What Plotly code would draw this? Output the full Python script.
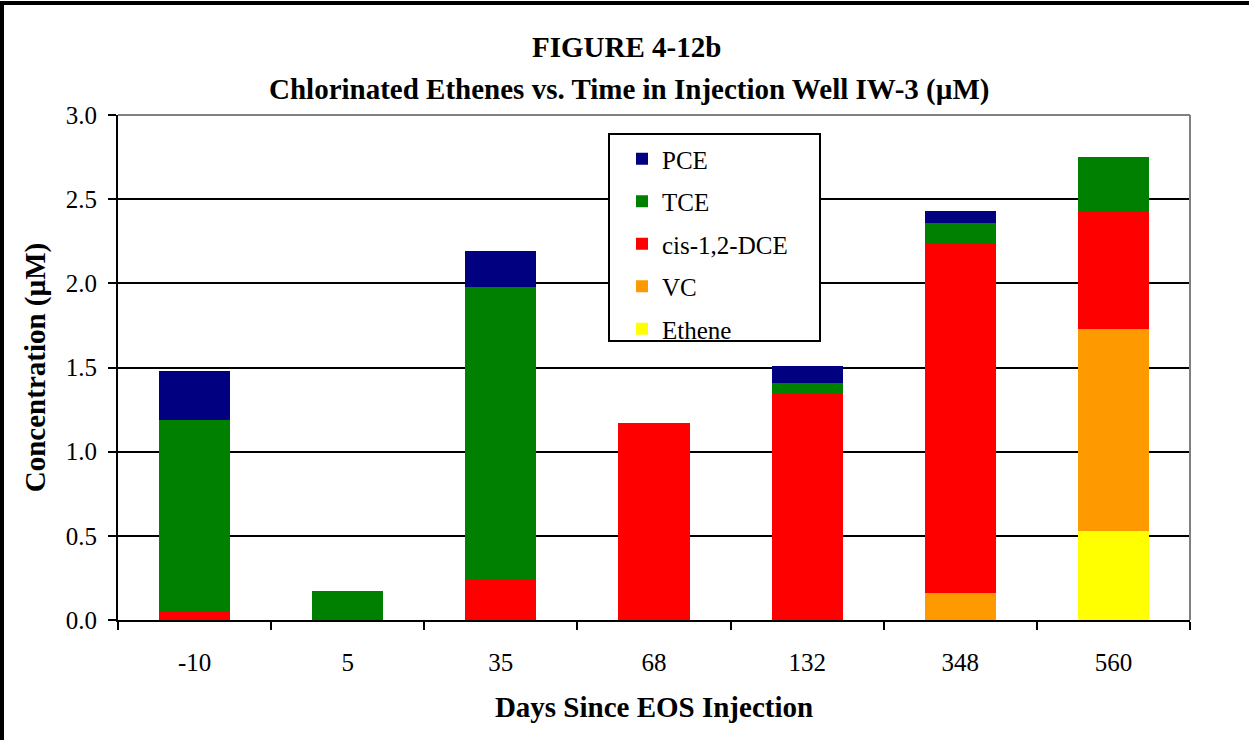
import plotly.graph_objects as go

days = ["-10", "5", "35", "68", "132", "348", "560"]
ethene = [0.0, 0.0, 0.0, 0.0, 0.0, 0.0, 0.53]
vc = [0.0, 0.0, 0.0, 0.0, 0.0, 0.16, 1.20]
cis_dce = [0.05, 0.0, 0.24, 1.17, 1.34, 2.08, 0.70]
tce = [1.14, 0.17, 1.74, 0.0, 0.07, 0.12, 0.32]
pce = [0.29, 0.0, 0.21, 0.0, 0.10, 0.07, 0.0]

series = [
    ("Ethene", ethene, "#FFFF00", 5),
    ("VC", vc, "#FF9900", 4),
    ("cis-1,2-DCE", cis_dce, "#FF0000", 3),
    ("TCE", tce, "#008000", 2),
    ("PCE", pce, "#000080", 1),
]

FONT = "Liberation Serif"

fig = go.Figure()
for name, vals, col, rank in series:
    fig.add_trace(go.Bar(
        x=days, y=vals, name=name, legendgroup=name, legendrank=rank,
        marker=dict(color=col, line=dict(width=0)),
    ))

L, R, T, B = 118, 1190, 115, 620
W, H = 1249, 740


def px(x):
    return (x - L) / (R - L)


def py(y):
    return (B - y) / (B - T)


fig.update_layout(
    width=W, height=H,
    barmode="stack",
    bargap=0.535,
    paper_bgcolor="white",
    plot_bgcolor="white",
    margin=dict(l=L, r=W - R, t=T, b=H - B, pad=0),
    font=dict(family=FONT, color="black", size=25),
    showlegend=True,
    legend=dict(
        x=px(622), y=py(136),
        xanchor="left", yanchor="top",
        traceorder="grouped",
        tracegroupgap=7,
        borderwidth=0, bgcolor="rgba(0,0,0,0)",
        font=dict(family=FONT, size=25, color="black"),
        itemwidth=30,
    ),
    xaxis=dict(
        type="category",
        showline=True, linecolor="black", linewidth=2,
        ticks="outside", tickson="boundaries", ticklen=8, tickwidth=2, tickcolor="black",
        showgrid=False,
        ticklabelstandoff=19,
        tickfont=dict(family=FONT, size=25),
        title=dict(text="<b>Days Since EOS Injection</b>", font=dict(family=FONT, size=29), standoff=22),
    ),
    yaxis=dict(
        range=[0, 3.0], dtick=0.5, tickformat=".1f",
        showline=True, linecolor="black", linewidth=2,
        ticks="outside", ticklen=8, tickwidth=2, tickcolor="black",
        showgrid=True, gridcolor="black", gridwidth=2,
        zeroline=False,
        ticklabelstandoff=6,
        tickfont=dict(family=FONT, size=25),
        title=dict(text="<b>Concentration (µM)</b>", font=dict(family=FONT, size=29), standoff=12),
    ),
    annotations=[
        dict(text="<b>FIGURE 4-12b</b>", xref="paper", yref="paper",
             x=px(626), y=py(47), xanchor="center", yanchor="middle",
             showarrow=False, font=dict(family=FONT, size=29)),
        dict(text="<b>Chlorinated Ethenes vs. Time in Injection Well IW-3 (µM)</b>", xref="paper", yref="paper",
             x=px(629), y=py(90), xanchor="center", yanchor="middle",
             showarrow=False, font=dict(family=FONT, size=29)),
    ],
    shapes=[
        # gray top and right plot border
        dict(type="line", xref="paper", yref="paper", x0=0, x1=1, y0=1, y1=1,
             line=dict(color="#808080", width=2)),
        dict(type="line", xref="paper", yref="paper", x0=1, x1=1, y0=0, y1=1,
             line=dict(color="#808080", width=2)),
        # legend box
        dict(type="rect", xref="paper", yref="paper",
             x0=px(609), x1=px(820), y0=py(341), y1=py(134),
             line=dict(color="black", width=2), fillcolor="white", layer="above"),
        # outer chart border
        dict(type="rect", xref="paper", yref="paper",
             x0=px(2), x1=px(W + 20), y0=py(H + 20), y1=py(3),
             line=dict(color="black", width=4), fillcolor="rgba(0,0,0,0)", layer="above"),
    ],
)

fig.write_html("out.html", config={"displayModeBar": False},
               post_script="document.body.style.margin='0';")
